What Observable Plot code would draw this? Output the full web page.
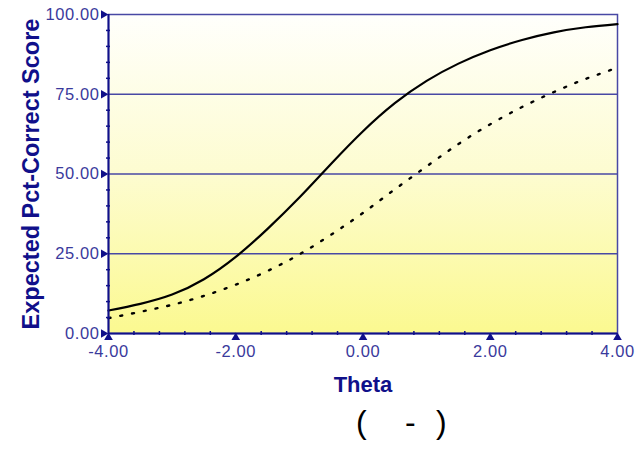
<!DOCTYPE html>
<html>
<head>
<meta charset="utf-8">
<script src="https://cdn.jsdelivr.net/npm/d3@7"></script>
<script src="https://cdn.jsdelivr.net/npm/@observablehq/plot@0.6"></script>
<style>
  html, body { margin: 0; padding: 0; background: #ffffff; }
  #chart { width: 636px; }
  #caption { position: relative; height: 44px; font-family: "Liberation Sans", Arial, sans-serif; font-size: 32px; color: #000; }
  #caption span { position: absolute; top: 2px; }
  svg .ticklbl text { letter-spacing: 0.6px; }
</style>
</head>
<body>
<div id="chart"></div>
<div id="caption"><span style="left:356px">(</span><span style="left:405px">-</span><span style="left:436px">)</span></div>
<script>
// Theta values (x axis)
const theta = [-4, -3.5, -3, -2.5, -2, -1.5, -1, -0.5, 0, 0.5, 1, 1.5, 2, 2.5, 3, 3.5, 4];
// Solid curve: expected pct-correct score
const solidScore = [7.2, 9.3, 12.2, 17, 24, 32.8, 42.6, 53.2, 63.4, 72.2, 79.2, 84.6, 88.8, 92, 94.4, 96, 97];
// Dotted curve: expected pct-correct score
const dottedScore = [4.8, 6.8, 9.0, 11.8, 15.3, 19.6, 24.8, 31, 37.8, 45.2, 52.4, 59.4, 65.6, 71, 75.7, 79.8, 83.3];
// Axis ticks
const xMajor = [-4, -2, 0, 2, 4];
const xMinor = [-3.6, -3.2, -2.8, -2.4, -1.6, -1.2, -0.8, -0.4, 0.4, 0.8, 1.2, 1.6, 2.4, 2.8, 3.2, 3.6];
const yMajor = [0, 25, 50, 75, 100];
const yMinor = [5, 10, 15, 20, 30, 35, 40, 45, 55, 60, 65, 70, 80, 85, 90, 95];
const yGrid = [25, 50, 75];
const xTitle = "Theta";
const yTitle = "Expected Pct-Correct Score";

const solid = theta.map((t, i) => ({theta: t, score: solidScore[i]}));
const dotted = theta.map((t, i) => ({theta: t, score: dottedScore[i]}));

const navy = "#10108a";
const gridC = "#4848a4";
const tickC = "#3a3a9c";
const fontFam = "'Liberation Sans', Arial, sans-serif";
const fmt = d => d3.format(".2f")(d).replace("\u2212", "-");

const chart = Plot.plot({
  width: 636,
  height: 402,
  marginLeft: 108,
  marginRight: 19,
  marginTop: 14,
  marginBottom: 69,
  style: {fontFamily: fontFam, background: "white"},
  x: {domain: [-4, 4]},
  y: {domain: [0, 100]},
  marks: [
    Plot.frame({fill: "url(#bgGrad)", stroke: gridC, strokeWidth: 1.5}),
    Plot.ruleY(yGrid, {stroke: gridC, strokeWidth: 1.6}),
    Plot.line(dotted, {x: "theta", y: "score", curve: "natural", stroke: "#000", strokeWidth: 2.4, strokeDasharray: "2,10"}),
    Plot.line(solid, {x: "theta", y: "score", curve: "natural", stroke: "#000", strokeWidth: 2.2}),
    Plot.ruleX([-4], {stroke: navy, strokeWidth: 2}),
    Plot.ruleY([0], {stroke: navy, strokeWidth: 2}),
    Plot.axisY(yMinor, {tickSize: 4, dx: 2, text: null, stroke: navy, strokeWidth: 1.5, label: null}),
    Plot.axisX(xMinor, {tickSize: 4, dy: -2, text: null, stroke: navy, strokeWidth: 1.5, label: null}),
    Plot.axisY(yMajor, {tickSize: 0, tickPadding: 9, tickFormat: fmt, fontSize: 16.5, fill: tickC, label: null, className: "ticklbl"}),
    Plot.axisX(xMajor, {tickSize: 0, tickPadding: 12, tickFormat: fmt, fontSize: 16.5, fill: tickC, label: null, className: "ticklbl"}),
    Plot.dot(yMajor, {x: () => -4, y: d => d, symbol: "triangle", rotate: 90, r: 3.2, fill: navy, stroke: "none", dx: -5}),
    Plot.dot(xMajor, {x: d => d, y: () => 0, symbol: "triangle", r: 3.2, fill: navy, stroke: "none", dy: 4}),
    Plot.text([xTitle], {frameAnchor: "bottom", dy: 58, fontSize: 22, fontWeight: "bold", fill: navy}),
    Plot.text([yTitle], {frameAnchor: "left", dx: -77, rotate: -90, textAnchor: "middle", fontSize: 23.5, fontWeight: "bold", fill: navy})
  ]
});

const defs = d3.create("svg:defs");
const grad = defs.append("linearGradient").attr("id", "bgGrad").attr("x1", 0).attr("y1", 0).attr("x2", 0).attr("y2", 1);
grad.append("stop").attr("offset", "0%").attr("stop-color", "#fffffc");
grad.append("stop").attr("offset", "50%").attr("stop-color", "#fdfcd0");
grad.append("stop").attr("offset", "100%").attr("stop-color", "#fbf990");
chart.insertBefore(defs.node(), chart.firstChild);

document.getElementById("chart").appendChild(chart);
</script>
</body>
</html>
